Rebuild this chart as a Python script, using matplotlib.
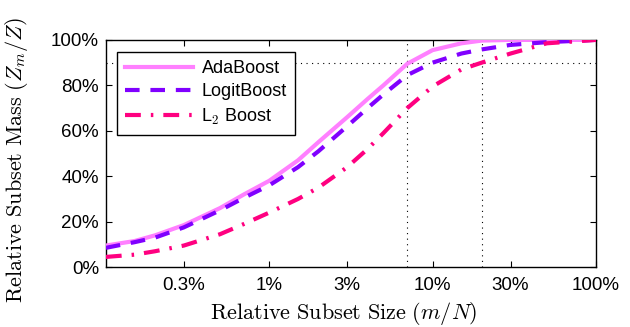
from matplotlib import pyplot as plt
import numpy as np

plt.rcParams['font.family'] = ['Liberation Sans', 'DejaVu Sans']
plt.rcParams['mathtext.fontset'] = 'cm'

# subset size (fraction of N) and cumulative mass in %
x_ada = [0.001, 0.0015, 0.002, 0.003, 0.005, 0.007, 0.01, 0.015, 0.02, 0.03, 0.04, 0.05, 0.07, 0.1, 0.15, 0.2, 0.3, 1.0]
ada = [9.5, 11.5, 14, 18.5, 26, 32, 38, 47, 55, 66, 74, 80, 89.5, 95.5, 98.5, 99.7, 100, 100]

x_logit = [0.001, 0.0015, 0.002, 0.003, 0.005, 0.007, 0.01, 0.015, 0.02, 0.03, 0.04, 0.05, 0.07, 0.1, 0.15, 0.2, 0.3, 0.5, 1.0]
logit = [8.5, 11, 13, 17.5, 25, 30.5, 36, 44, 51, 62, 70, 76, 84.5, 90, 94, 95.8, 97.8, 99, 100]

x_l2 = [0.001, 0.0015, 0.002, 0.003, 0.005, 0.007, 0.01, 0.015, 0.02, 0.03, 0.04, 0.05, 0.07, 0.1, 0.15, 0.2, 0.3, 0.5, 1.0]
l2 = [4.5, 5.5, 7, 9.5, 14.5, 19, 24, 30, 35, 44, 52, 59, 70, 79.5, 87, 90, 94, 98.5, 100]

xticks = [0.003, 0.01, 0.03, 0.1, 0.3, 1.0]
xticklabels = ['0.3%', '1%', '3%', '10%', '30%', '100%']
yticks = [0, 20, 40, 60, 80, 100]
yticklabels = ['0%', '20%', '40%', '60%', '80%', '100%']

fig = plt.figure(figsize=(6.3, 3.27), dpi=100)
ax = fig.add_axes([0.168, 0.183, 0.778, 0.695])

ax.axhline(90, color='black', ls=(0, (1, 4)), lw=0.8, zorder=1)
ax.axvline(0.07, color='black', ls=(0, (1, 4)), lw=0.8, zorder=1)
ax.axvline(0.2, color='black', ls=(0, (1, 4)), lw=0.8, zorder=1)

ax.plot(x_ada, ada, color='#ff80ff', lw=3, label='AdaBoost', zorder=3)
ax.plot(x_logit, logit, color='#8000ff', lw=3, ls=(0, (3.5, 2.6)), label='LogitBoost', zorder=4)
ax.plot(x_l2, l2, color='#ff0080', lw=3, ls=(0, (3.8, 2.4, 0.6, 2.4)), label='L$_2$ Boost', zorder=5)

ax.set_xscale('log')
ax.set_xlim(0.001, 1.0)
ax.set_ylim(0, 100)
ax.set_xticks(xticks)
ax.set_xticklabels(xticklabels)
ax.xaxis.set_minor_locator(plt.NullLocator())
ax.set_yticks(yticks)
ax.set_yticklabels(yticklabels)
ax.tick_params(direction='in', top=True, right=True, labelsize=13.5, length=4)
ax.tick_params(axis='x', pad=7)
ax.tick_params(axis='y', pad=5)
for s in ax.spines.values():
    s.set_linewidth(1.0)

ax.set_xlabel(r'$\mathrm{Relative\ Subset\ Size}\ (m/N)$', fontsize=16)
ax.set_ylabel(r'$\mathrm{Relative\ Subset\ Mass}\ (Z_m/Z)$', fontsize=16)
ax.xaxis.set_label_coords(0.485, -0.145)
ax.yaxis.set_label_coords(-0.155, 0.47)

leg = ax.legend(loc='upper left', fontsize=13, fancybox=False, framealpha=1,
                edgecolor='black', handlelength=3.8, handletextpad=0.45,
                borderpad=0.45, labelspacing=0.35, borderaxespad=0,
                bbox_to_anchor=(0.022, 0.947))
leg.get_frame().set_linewidth(1.0)

fig.savefig('out.png', dpi=100)
